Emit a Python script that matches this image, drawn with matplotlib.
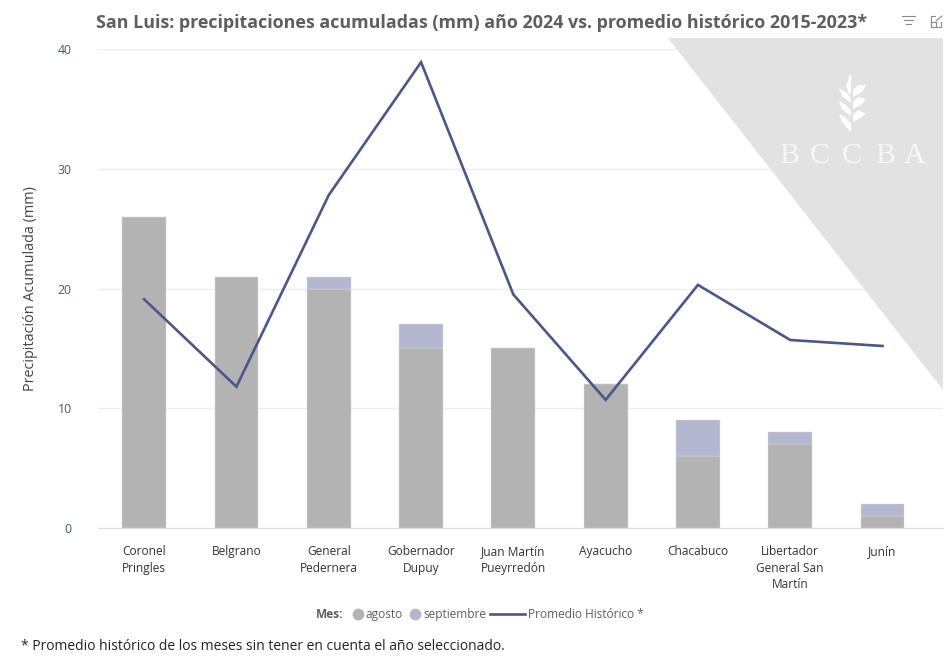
import numpy as np
import matplotlib
matplotlib.use('Agg')
import matplotlib.pyplot as plt
from matplotlib.lines import Line2D
from matplotlib.patches import Polygon

### datos
departamentos = ['Coronel\nPringles', 'Belgrano', 'General\nPedernera', 'Gobernador\nDupuy',
                 'Juan Martín\nPueyrredón', 'Ayacucho', 'Chacabuco',
                 'Libertador\nGeneral San\nMartín', 'Junín']
agosto = [26, 21, 20, 15, 15, 12, 6, 7, 1]
septiembre = [0, 0, 1, 2, 0, 0, 3, 1, 1]
promedio = [19.1, 11.8, 27.8, 38.9, 19.5, 10.7, 20.3, 15.7, 15.2]
yticks = [0, 10, 20, 30, 40]

plt.rcParams['font.family'] = ['Open Sans', 'DejaVu Sans']

W, H = 950, 660
C_AGO = '#B3B3B3'
C_SEP = '#B3B8D0'
C_LINE = '#4A5788'
C_TXT = '#605E5C'


def px(x, y):
    ### de pixeles de la imagen a coordenadas de figura
    return x / W, 1 - y / H


def poligono(puntos, color):
    fig.add_artist(Polygon([px(*p) for p in puntos], closed=True, transform=fig.transFigure,
                           facecolor=color, edgecolor='none', zorder=6))


fig = plt.figure(figsize=(W / 100, H / 100), dpi=100)
ax = fig.add_axes([98 / W, 1 - 528 / H, (943 - 98) / W, (528 - 49) / H])

x = np.arange(len(departamentos))
ax.bar(x, agosto, width=0.475, color=C_AGO, edgecolor='#DDDDDD', linewidth=0.3, zorder=2)
ax.bar(x, septiembre, width=0.475, bottom=agosto, color=C_SEP, edgecolor='#DDDDDD', linewidth=0.3, zorder=2)
ax.plot(x, promedio, color=C_LINE, linewidth=1.9, zorder=4, solid_joinstyle='miter')

ax.set_xlim(-0.5, 8.655)
ax.set_ylim(0, 40)
ax.set_yticks(yticks)
ax.set_xticks(x)
ax.set_xticklabels(departamentos, fontsize=8.6, color='#333333', linespacing=1.33)
ax.tick_params(axis='x', length=0, pad=12.5)
ax.tick_params(axis='y', length=0, pad=19, labelsize=8.8, labelcolor='#3A5A78')
ax.grid(axis='y', color='#EDEDED', linewidth=1, zorder=0)
ax.set_axisbelow(True)
for s in ['top', 'right', 'left']:
    ax.spines[s].set_visible(False)
ax.spines['bottom'].set_color('#DDDDDD')
ax.set_ylabel('Precipitación Acumulada (mm)', fontsize=10.4, color='#444444')
ax.yaxis.set_label_coords((38 - 98) / (943 - 98), 0.5)

### triangulo de la marca de agua
fig.add_artist(Polygon([px(668, 38), px(943, 38), px(943, 390)], closed=True,
                       transform=fig.transFigure, facecolor='#E3E2E3', edgecolor='none', zorder=5))
### espiga
poligono([(849, 94), (846, 86), (850, 74), (851, 74), (851, 94)], 'white')
for y0 in [86, 98, 111]:
    poligono([(853, y0 + 11), (853, y0 + 4), (858, y0 - 1), (866, y0 - 1 + (y0 - 86) // 6), (862, y0 + 6)], 'white')
for y0 in [90, 103, 116]:
    poligono([(851, y0 + 13), (851, y0 + 8), (846, y0 + 2), (839, y0 - 2), (842, y0 + 6)], 'white')
poligono([(851, 132), (846, 127), (841, 120), (851, 128)], 'white')
for xl, letra in zip([789, 820, 852, 885, 915], 'BCCBA'):
    fig.text(*px(xl, 156), letra, family=['Liberation Serif'], fontsize=21.5, color='#F8F8F8',
             ha='center', va='center', zorder=6)

### titulo
fig.text(*px(482, 22.5), 'San Luis: precipitaciones acumuladas (mm) año 2024 vs. promedio histórico 2015-2023*',
         fontsize=12.85, fontweight='bold', color=C_TXT, ha='center', va='center')

### iconos de filtro y expandir
c_ic = '#8A8A8A'
for x0, x1, y0 in [(902, 915, 16), (904, 913, 20), (906, 911, 24)]:
    fig.add_artist(Line2D([x0 / W, x1 / W], [1 - y0 / H] * 2, color=c_ic, lw=0.8))
xs = [931, 931, 941, 941]
ys = [21, 27, 27, 22]
fig.add_artist(Line2D([a / W for a in xs], [1 - b / H for b in ys], color=c_ic, lw=0.8))
xs = [931, 931, 935]
ys = [21, 16, 16]
fig.add_artist(Line2D([a / W for a in xs], [1 - b / H for b in ys], color=c_ic, lw=0.8))
fig.add_artist(Line2D([936 / W, 942 / W], [1 - 21 / H, 1 - 16 / H], color=c_ic, lw=0.8))
fig.add_artist(Line2D([931 / W, 936 / W, 936 / W], [1 - 22 / H, 1 - 22 / H, 1 - 27 / H], color=c_ic, lw=0.8))

### leyenda
ley_y = 618
fig.text(*px(316, ley_y), 'Mes:', fontsize=8.6, fontweight='bold', color=C_TXT, ha='left', va='baseline')
fig.add_artist(Line2D([px(358, 0)[0]], [px(0, 614)[1]], marker='o', ms=8.5, color=C_AGO, mew=0))
fig.text(*px(365, ley_y), 'agosto', fontsize=8.6, color=C_TXT, ha='left', va='baseline')
fig.add_artist(Line2D([px(415, 0)[0]], [px(0, 614)[1]], marker='o', ms=8.5, color=C_SEP, mew=0))
fig.text(*px(423, ley_y), 'septiembre', fontsize=8.6, color=C_TXT, ha='left', va='baseline')
fig.add_artist(Line2D([px(490, 0)[0], px(525, 0)[0]], [px(0, 614)[1]] * 2, color=C_LINE, lw=1.9))
fig.text(*px(528, ley_y), 'Promedio Histórico *', fontsize=8.6, color=C_TXT, ha='left', va='baseline')

### nota al pie
fig.text(*px(21, 646), '* Promedio histórico de los meses sin tener en cuenta el año seleccionado.',
         fontsize=10, color='#222222', ha='left', va='center')

fig.savefig('out.png', dpi=100)
